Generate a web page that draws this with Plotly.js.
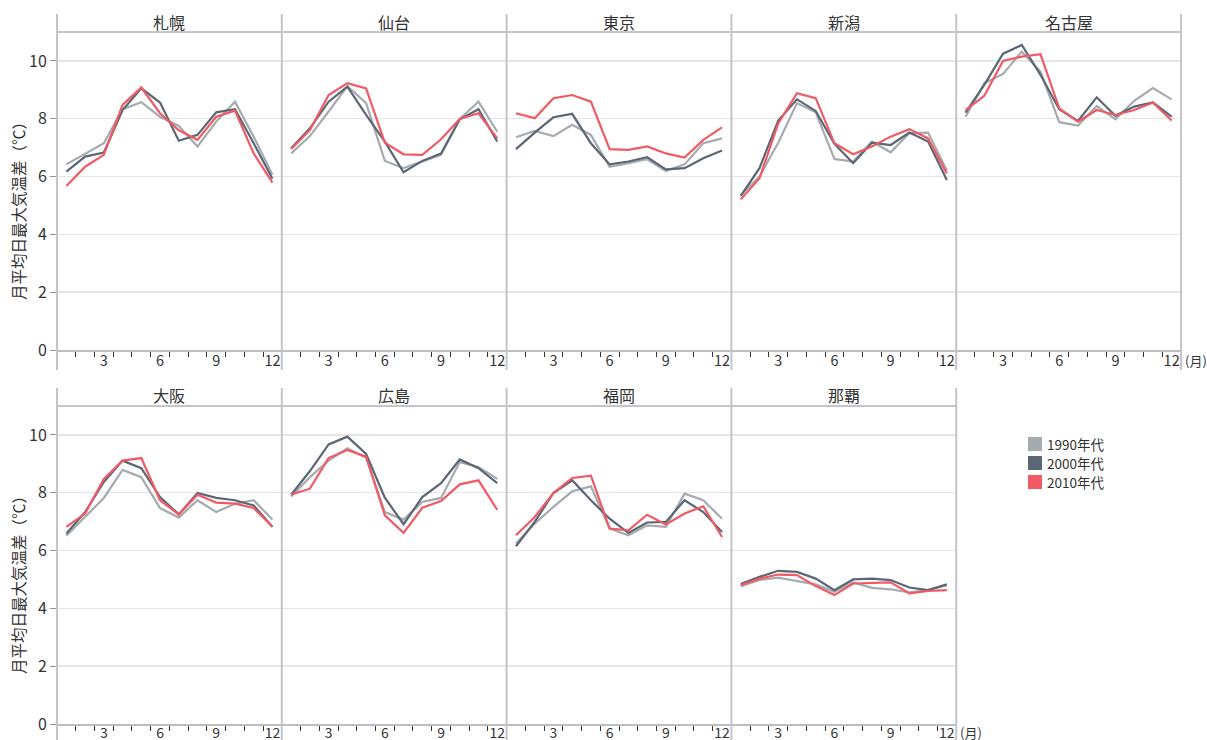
<!DOCTYPE html>
<html>
<head>
<meta charset="utf-8">
<script src="https://cdn.plot.ly/plotly-3.0.1.min.js"></script>
<style>html,body{margin:0;padding:0;background:#fff;}#chart{width:1207px;height:740px;}</style>
</head>
<body>
<div id="chart"></div>
<script>
// ---- data ----
const months = [1, 2, 3, 4, 5, 6, 7, 8, 9, 10, 11, 12];
const monthTickVals = [3, 6, 9, 12];
const monthTickText = ['3', '6', '9', '12'];
const yTickVals = [0, 2, 4, 6, 8, 10];
const cities = ['札幌', '仙台', '東京', '新潟', '名古屋', '大阪', '広島', '福岡', '那覇'];
const decades = ['1990年代', '2000年代', '2010年代'];
const decadeColors = ['#a5abaf', '#5b6775', '#ef5a64'];

// one row per city, in the order of `cities`
const v1990 = [
  [6.42, 6.78, 7.15, 8.33, 8.57, 8.07, 7.75, 7.04, 7.90, 8.59, 7.38, 6.06],
  [6.80, 7.40, 8.25, 9.13, 8.54, 6.54, 6.29, 6.52, 6.75, 7.99, 8.59, 7.55],
  [7.36, 7.58, 7.40, 7.79, 7.44, 6.34, 6.46, 6.60, 6.19, 6.42, 7.15, 7.32],
  [5.36, 6.00, 7.17, 8.54, 8.22, 6.61, 6.52, 7.21, 6.84, 7.50, 7.52, 6.21],
  [8.07, 9.23, 9.55, 10.32, 9.63, 7.88, 7.76, 8.44, 7.98, 8.62, 9.06, 8.67],
  [6.51, 7.16, 7.82, 8.79, 8.54, 7.47, 7.14, 7.74, 7.33, 7.62, 7.74, 7.07],
  [7.87, 8.54, 9.11, 9.54, 9.21, 7.33, 7.07, 7.68, 7.82, 9.06, 8.89, 8.48],
  [6.24, 6.93, 7.51, 8.05, 8.22, 6.76, 6.53, 6.87, 6.82, 7.97, 7.74, 7.10],
  [4.77, 4.98, 5.06, 4.95, 4.83, 4.57, 4.90, 4.71, 4.66, 4.55, 4.63, 4.80]
];
const v2000 = [
  [6.17, 6.69, 6.83, 8.30, 9.05, 8.56, 7.24, 7.44, 8.22, 8.33, 7.15, 5.92],
  [6.98, 7.67, 8.59, 9.11, 8.13, 7.21, 6.15, 6.54, 6.80, 7.98, 8.33, 7.21],
  [6.95, 7.52, 8.05, 8.17, 7.15, 6.42, 6.52, 6.67, 6.25, 6.29, 6.63, 6.90],
  [5.33, 6.29, 7.94, 8.67, 8.27, 7.13, 6.46, 7.17, 7.09, 7.52, 7.21, 5.88],
  [8.21, 9.17, 10.25, 10.55, 9.52, 8.33, 7.92, 8.74, 8.10, 8.42, 8.56, 8.07],
  [6.59, 7.33, 8.37, 9.11, 8.85, 7.85, 7.25, 7.99, 7.82, 7.74, 7.56, 6.82],
  [7.93, 8.75, 9.67, 9.94, 9.34, 7.83, 6.91, 7.85, 8.33, 9.15, 8.85, 8.33],
  [6.15, 6.99, 7.99, 8.43, 7.74, 7.10, 6.61, 6.97, 6.99, 7.74, 7.33, 6.64],
  [4.84, 5.09, 5.30, 5.26, 5.03, 4.63, 5.00, 5.03, 4.98, 4.72, 4.63, 4.83]
];
const v2010 = [
  [5.67, 6.34, 6.75, 8.48, 9.08, 8.19, 7.60, 7.27, 8.07, 8.28, 6.80, 5.79],
  [6.95, 7.61, 8.82, 9.23, 9.05, 7.17, 6.77, 6.75, 7.29, 7.99, 8.19, 7.32],
  [8.19, 8.02, 8.71, 8.82, 8.59, 6.95, 6.92, 7.04, 6.80, 6.66, 7.27, 7.70],
  [5.21, 5.94, 7.84, 8.88, 8.71, 7.15, 6.77, 7.04, 7.38, 7.64, 7.32, 6.11],
  [8.30, 8.79, 10.00, 10.15, 10.23, 8.36, 7.90, 8.30, 8.13, 8.30, 8.56, 7.94],
  [6.82, 7.28, 8.48, 9.11, 9.20, 7.74, 7.25, 7.93, 7.66, 7.62, 7.47, 6.82],
  [7.94, 8.14, 9.20, 9.48, 9.25, 7.22, 6.61, 7.48, 7.71, 8.29, 8.43, 7.41],
  [6.53, 7.16, 7.99, 8.51, 8.59, 6.76, 6.70, 7.24, 6.90, 7.28, 7.53, 6.47],
  [4.80, 5.03, 5.17, 5.15, 4.77, 4.46, 4.86, 4.89, 4.90, 4.52, 4.60, 4.63]
];
const seriesByDecade = [v1990, v2000, v2010];
const yTitle = '月平均日最大気温差（℃）';
const monthUnit = '(月)';

// ---- layout helpers (pixel -> paper) ----
const W = 1207, H = 740;
const px = x => x / W;
const py = y => (H - y) / H;
const colEdges = [57, 281.8, 506.6, 731.4, 956.2, 1181];
const rows = [
  {top: 32, bottom: 350, lineTop: 14, lineBottom: 370, titleY: 22, yTitleY: 207, unitY: 360, standoff: -3, tickSize: 14.5},
  {top: 406, bottom: 724, lineTop: 388, lineBottom: 740, titleY: 395, yTitleY: 581, unitY: 732, standoff: -5, tickSize: 14}
];
const FONT = '"Noto Sans CJK JP", "Noto Sans", sans-serif';

const traces = [];
const layout = {
  width: W, height: H,
  margin: {l: 0, r: 0, t: 0, b: 0},
  paper_bgcolor: '#fff', plot_bgcolor: 'rgba(0,0,0,0)',
  font: {family: FONT, color: '#333', size: 14},
  showlegend: false,
  shapes: [], annotations: []
};

cities.forEach((city, i) => {
  const r = i < 5 ? 0 : 1;
  const c = i % 5;
  const row = rows[r];
  const xa = 'xaxis' + (i + 1), ya = 'yaxis' + (i + 1);
  const xr = 'x' + (i + 1), yr = 'y' + (i + 1);
  layout[xa] = {
    domain: [px(colEdges[c]), px(colEdges[c + 1])],
    anchor: yr, range: [0.5, 12.5], fixedrange: true,
    tickmode: 'array', tickvals: monthTickVals, ticktext: monthTickText,
    ticks: '', showgrid: false, zeroline: false, ticklabelstandoff: row.standoff,
    showline: true, linecolor: '#bdbdc2', linewidth: 2,
    tickfont: {size: row.tickSize, color: '#333'},
    minor: {ticks: 'outside', tickmode: 'linear', tick0: 0.5, dtick: 1, ticklen: 5, tickwidth: 1, tickcolor: '#333', showgrid: false}
  };
  layout[ya] = {
    domain: [py(row.bottom), py(row.top)],
    anchor: xr, range: [0, 11], fixedrange: true,
    tickmode: 'array', tickvals: yTickVals,
    showticklabels: c === 0, ticks: c === 0 ? 'outside' : '', ticklen: 6, tickcolor: '#999',
    showgrid: true, gridcolor: '#e6e6e8', gridwidth: 1.5, zeroline: false, showline: false,
    tickfont: {size: 16, color: '#333'}
  };
  if (c === 0) {
    layout.annotations.push({xref: 'paper', yref: 'paper', x: px(18), y: py(row.yTitleY),
      text: yTitle, textangle: -90, showarrow: false, xanchor: 'center', yanchor: 'middle',
      font: {size: 15.5, color: '#333'}});
  }
  // header line
  layout.shapes.push({type: 'line', xref: 'paper', yref: 'paper',
    x0: px(colEdges[c]), x1: px(colEdges[c + 1]), y0: py(row.top), y1: py(row.top),
    line: {color: '#c4c4ca', width: 2}});
  // panel title
  layout.annotations.push({xref: 'paper', yref: 'paper',
    x: px((colEdges[c] + colEdges[c + 1]) / 2), y: py(row.titleY),
    text: city, showarrow: false, xanchor: 'center', yanchor: 'middle',
    font: {size: 16, color: '#333'}});
  seriesByDecade.forEach((vals, d) => {
    traces.push({
      type: 'scatter', mode: 'lines', x: months, y: vals[i],
      xaxis: xr, yaxis: yr, name: decades[d],
      showlegend: false, hoverinfo: 'skip',
      line: {color: decadeColors[d], width: 2.2}
    });
  });
});

// vertical panel borders
[0, 1].forEach(r => {
  const row = rows[r];
  const nCols = r === 0 ? 5 : 4;
  for (let k = 0; k <= nCols; k++) {
    layout.shapes.push({type: 'line', xref: 'paper', yref: 'paper',
      x0: px(colEdges[k]), x1: px(colEdges[k]), y0: py(row.lineTop), y1: py(row.lineBottom),
      line: {color: '#c4c4ca', width: 2}});
  }
  layout.annotations.push({xref: 'paper', yref: 'paper', x: px(colEdges[nCols] + 2), y: py(row.unitY),
    text: monthUnit, showarrow: false, xanchor: 'left', yanchor: 'middle', font: {size: 13, color: '#333'}});
});

// legend (squares + labels)
decades.forEach((name, d) => {
  const cy = 444 + d * 19;
  layout.shapes.push({type: 'rect', xref: 'paper', yref: 'paper',
    x0: px(1028), x1: px(1042), y0: py(cy - 7), y1: py(cy + 7),
    fillcolor: decadeColors[d], line: {width: 0}});
  layout.annotations.push({xref: 'paper', yref: 'paper', x: px(1045), y: py(cy),
    text: name, showarrow: false, xanchor: 'left', yanchor: 'middle',
    font: {size: 13.5, color: '#333'}});
});

Plotly.newPlot('chart', traces, layout, {displayModeBar: false, staticPlot: true});
</script>
</body>
</html>
